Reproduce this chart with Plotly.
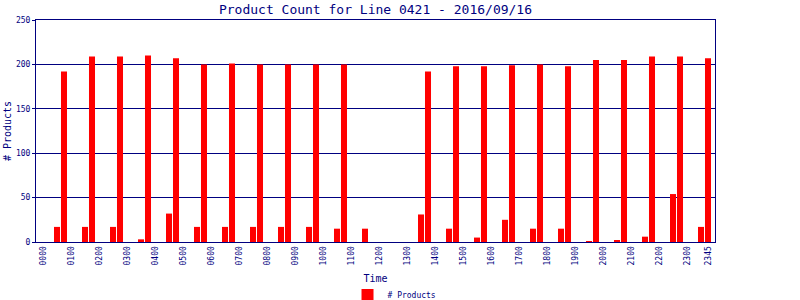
import plotly.graph_objects as go

# 15-minute time slots for the day
times = [f"{h:02d}{m:02d}" for h in range(24) for m in (0, 15, 30, 45)]

# product counts per slot (hh00, hh15, hh30, hh45)
counts = [
    0, 0, 17, 192,   # 00
    0, 0, 17, 209,   # 01
    0, 0, 17, 209,   # 02
    0, 0, 3, 210,    # 03
    0, 0, 32, 207,   # 04
    0, 0, 17, 200,   # 05
    0, 0, 17, 201,   # 06
    0, 0, 17, 200,   # 07
    0, 0, 17, 200,   # 08
    0, 0, 17, 200,   # 09
    0, 0, 15, 200,   # 10
    0, 0, 15, 0,     # 11
    0, 0, 0, 0,      # 12
    0, 0, 31, 192,   # 13
    0, 0, 15, 198,   # 14
    0, 0, 5, 198,    # 15
    0, 0, 25, 199,   # 16
    0, 0, 15, 200,   # 17
    0, 0, 15, 198,   # 18
    0, 0, 1, 205,    # 19
    0, 0, 2, 205,    # 20
    0, 0, 6, 209,    # 21
    0, 0, 54, 209,   # 22
    0, 0, 17, 207,   # 23
]

tick_labels = ["0000", "0100", "0200", "0300", "0400", "0500", "0600", "0700",
               "0800", "0900", "1000", "1100", "1200", "1300", "1400", "1500",
               "1600", "1700", "1800", "1900", "2000", "2100", "2200", "2300",
               "2345"]

NAVY = "#000080"
FONT = "DejaVu Sans Mono"

fig = go.Figure()
fig.add_trace(go.Bar(
    x=times, y=counts, name="# Products",
    marker=dict(color="#ff0000", line=dict(width=0)),
))

fig.update_layout(
    width=800, height=300,
    margin=dict(l=36, r=85, t=20, b=58, autoexpand=False),
    paper_bgcolor="white", plot_bgcolor="white",
    bargap=0.14,
    font=dict(family=FONT, color=NAVY),
    title=dict(text="Product Count for Line 0421 - 2016/09/16",
               x=(36 + 715) / 2 / 800, xanchor="center",
               y=1 - 9 / 300, yanchor="middle",
               font=dict(family=FONT, size=13, color=NAVY)),
    showlegend=True,
    legend=dict(orientation="h", x=0.528, xanchor="center",
                y=-0.239, yanchor="middle",
                font=dict(family=FONT, size=8, color=NAVY),
                itemwidth=30, bgcolor="rgba(0,0,0,0)"),
)

fig.update_xaxes(
    type="category", range=[-1, 96], automargin=False,
    tickmode="array", tickvals=tick_labels, ticktext=tick_labels,
    tickangle=-90, tickfont=dict(family=FONT, size=8, color=NAVY),
    showgrid=False, zeroline=False,
    showline=True, linecolor=NAVY, linewidth=1, mirror=True,
    ticks="", title=dict(text="Time", standoff=10,
                         font=dict(family=FONT, size=10, color=NAVY)),
)

fig.update_yaxes(
    range=[0, 250], tickvals=[0, 50, 100, 150, 200, 250], automargin=False,
    showgrid=True, gridcolor=NAVY, gridwidth=1, zeroline=False,
    showline=True, linecolor=NAVY, linewidth=1, mirror=True,
    ticks="outside", ticklen=3, tickcolor=NAVY,
    tickfont=dict(family=FONT, size=8, color=NAVY),
    title=dict(text="# Products", standoff=2,
               font=dict(family=FONT, size=10, color=NAVY)),
)

fig.write_html("out.html")
